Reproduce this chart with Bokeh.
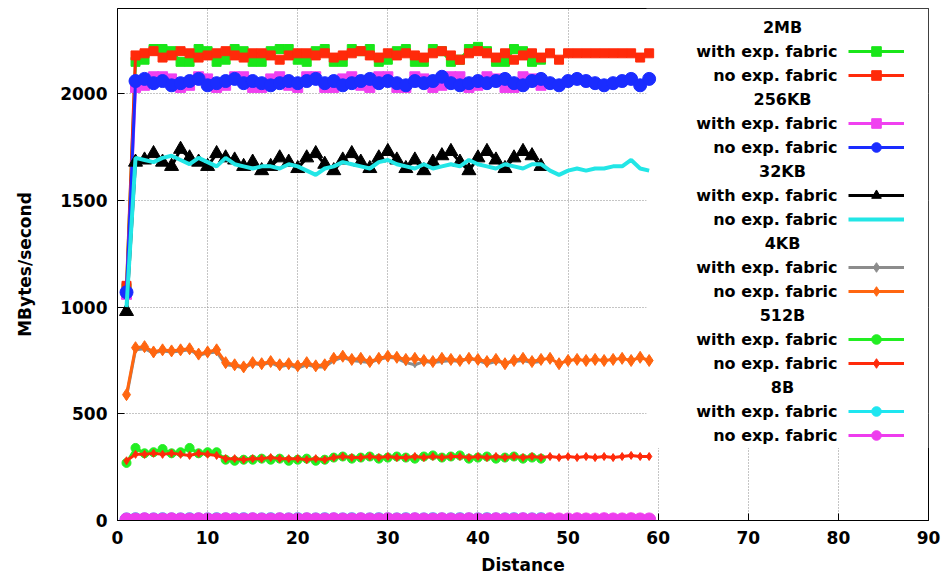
from bokeh.plotting import figure
from bokeh.models import (Range1d, FixedTicker, Legend, LegendItem, Label,
                          BoxAnnotation)
from bokeh.embed import file_html
from bokeh.resources import INLINE

# ---------------- data ----------------
dist_no = list(range(1, 60))      # "no exp. fabric" runs: distance 1..59
dist_with = list(range(1, 48))    # "with exp. fabric" runs: distance 1..47

mb2_with = [1090,
            2150, 2160, 2210, 2210, 2200, 2150, 2150, 2210, 2200, 2150,
            2160, 2210, 2200, 2150, 2150, 2200, 2210, 2210, 2160, 2150,
            2200, 2210, 2150, 2150, 2210, 2200, 2210, 2150, 2160, 2200,
            2210, 2150, 2150, 2210, 2200, 2150, 2160, 2210, 2220, 2200,
            2150, 2150, 2210, 2200, 2150, 2160]
mb2_no = [1100,
          2180, 2190, 2200, 2170, 2180, 2200, 2190, 2170, 2180, 2190,
          2200, 2180, 2170, 2190, 2190, 2180, 2160, 2180, 2190, 2190,
          2180, 2190, 2170, 2180, 2190, 2200, 2180, 2170, 2190, 2180,
          2190, 2180, 2170, 2190, 2200, 2180, 2160, 2190, 2200, 2190,
          2170, 2190, 2160, 2180, 2190, 2170, 2190, 2160, 2190, 2190,
          2190, 2190, 2190, 2190, 2190, 2190, 2170, 2190]
kb256_with = [1060,
              2030, 2040, 2080, 2080, 2070, 2030, 2040, 2080, 2070, 2030,
              2040, 2080, 2080, 2030, 2030, 2070, 2080, 2040, 2030, 2080,
              2080, 2030, 2030, 2070, 2080, 2040, 2030, 2080, 2080, 2030,
              2030, 2080, 2070, 2030, 2040, 2080, 2080, 2030, 2040, 2080,
              2070, 2030, 2030, 2080, 2070, 2040]
kb256_no = [1070,
            2060, 2070, 2050, 2060, 2040, 2050, 2060, 2070, 2040, 2050,
            2060, 2070, 2050, 2060, 2050, 2040, 2050, 2060, 2050, 2060,
            2070, 2050, 2060, 2040, 2050, 2060, 2070, 2050, 2060, 2050,
            2040, 2060, 2050, 2060, 2080, 2050, 2040, 2050, 2060, 2050,
            2060, 2070, 2050, 2040, 2060, 2070, 2050, 2040, 2060, 2070,
            2060, 2050, 2040, 2050, 2060, 2070, 2040, 2070]
kb32_with = [980,
             1680, 1690, 1720, 1680, 1660, 1740, 1700, 1680, 1660, 1720,
             1700, 1690, 1660, 1680, 1640, 1660, 1700, 1680, 1650, 1700,
             1720, 1670, 1640, 1690, 1720, 1680, 1650, 1700, 1730, 1690,
             1650, 1690, 1640, 1680, 1710, 1730, 1680, 1640, 1700, 1730,
             1690, 1650, 1700, 1730, 1710, 1660]
kb32_no = [1000,
           1700, 1690, 1680, 1700, 1710, 1690, 1670, 1700, 1680, 1660,
           1700, 1670, 1660, 1650, 1660, 1660, 1650, 1670, 1660, 1640,
           1620, 1650, 1660, 1680, 1670, 1660, 1650, 1680, 1690, 1670,
           1660, 1650, 1670, 1650, 1660, 1670, 1660, 1690, 1670, 1660,
           1650, 1670, 1660, 1650, 1670, 1670, 1640, 1620, 1640, 1650,
           1640, 1650, 1650, 1660, 1660, 1690, 1650, 1640]
kb4_with = [580,
            800, 805, 785, 795, 790, 795, 800, 775, 785, 790,
            730, 725, 715, 735, 730, 740, 720, 730, 715, 730,
            720, 720, 750, 765, 750, 745, 740, 755, 765, 760,
            740, 730, 745, 740, 745, 750, 745, 760, 750, 735,
            745, 740, 745, 750, 740, 745]
kb4_no = [590,
          810, 815, 790, 800, 795, 800, 805, 780, 790, 800,
          740, 730, 720, 740, 735, 745, 730, 735, 725, 740,
          725, 730, 760, 770, 755, 760, 745, 760, 770, 765,
          755, 760, 750, 745, 760, 755, 750, 760, 755, 745,
          755, 735, 750, 760, 745, 755, 760, 735, 750, 755,
          750, 755, 750, 755, 760, 750, 765, 750]
b512_with = [270,
             340, 315, 320, 335, 315, 320, 340, 315, 320, 320,
             285, 280, 285, 285, 290, 285, 290, 280, 285, 290,
             280, 285, 295, 300, 290, 295, 300, 290, 295, 300,
             295, 290, 300, 305, 295, 300, 305, 290, 295, 300,
             290, 295, 300, 290, 295, 290]
b512_no = [280,
           310, 310, 315, 310, 315, 310, 305, 315, 310, 305,
           290, 290, 285, 290, 290, 295, 290, 290, 290, 285,
           290, 285, 295, 300, 295, 295, 300, 295, 300, 295,
           295, 300, 295, 300, 295, 300, 300, 295, 300, 295,
           300, 295, 300, 295, 300, 295, 300, 295, 300, 295,
           300, 295, 300, 295, 300, 305, 300, 300]
b8_with = [5, 6, 5, 5, 6, 5, 5, 6, 5, 5, 6, 5, 5, 6, 5, 5,
           6, 5, 5, 6, 5, 5, 6, 5, 5, 6, 5, 5, 6, 5, 5, 6,
           5, 5, 6, 5, 5, 6, 5, 5, 6, 5, 5, 6, 5, 5, 6]
b8_no = [5, 5, 6, 5, 5, 6, 5, 5, 6, 5, 5, 6, 5, 5, 6, 5,
         5, 6, 5, 5, 6, 5, 5, 6, 5, 5, 6, 5, 5, 6, 5, 5,
         6, 5, 5, 6, 5, 5, 6, 5, 5, 6, 5, 5, 6, 5, 5, 6,
         5, 5, 6, 5, 5, 6, 5, 5, 6, 5, 5]

x_ticks = [0, 10, 20, 30, 40, 50, 60, 70, 80, 90]
y_ticks = [0, 500, 1000, 1500, 2000]

groups = ["2MB", "256KB", "32KB", "4KB", "512B", "8B"]
series_labels = ["with exp. fabric", "no exp. fabric"]

FONT = "DejaVu Sans"

# ---------------- figure ----------------
p = figure(width=943, height=580, output_backend="svg", toolbar_location=None,
           x_range=Range1d(0, 90), y_range=Range1d(0, 2400),
           min_border_left=117, min_border_right=15, min_border_top=8,
           min_border_bottom=60)
p.background_fill_color = "white"
p.border_fill_color = "white"
p.outline_line_color = "black"
p.outline_line_width = 1

for ax in (p.xaxis[0], p.yaxis[0]):
    ax.axis_line_color = "black"
    ax.major_tick_in = 7
    ax.major_tick_out = 0
    ax.minor_tick_line_color = None
    ax.major_tick_line_color = "black"
    ax.major_label_text_font = FONT
    ax.major_label_text_font_style = "bold"
    ax.major_label_text_font_size = "17px"
    ax.major_label_text_color = "black"
    ax.axis_label_text_font = FONT
    ax.axis_label_text_font_style = "bold"
    ax.axis_label_text_font_size = "17px"
    ax.axis_label_text_color = "black"
    ax.major_label_standoff = 10

p.xaxis[0].ticker = FixedTicker(ticks=x_ticks)
p.yaxis[0].ticker = FixedTicker(ticks=y_ticks)
p.xaxis[0].axis_label = "Distance"
p.yaxis[0].axis_label = "MBytes/second"
p.xaxis[0].axis_label_standoff = 8
p.yaxis[0].axis_label_standoff = 22

for g in (p.xgrid[0], p.ygrid[0]):
    g.grid_line_color = "#8a8a8a"
    g.grid_line_dash = "1 2"
    g.grid_line_width = 1
p.xgrid[0].ticker = FixedTicker(ticks=x_ticks)
p.ygrid[0].ticker = FixedTicker(ticks=y_ticks)

# opaque key area (covers grid, lies under the data)
p.add_layout(BoxAnnotation(left=58.7, right=90, bottom=340, top=2400,
                           fill_color="white", fill_alpha=1.0,
                           line_alpha=0, level="underlay"))

# ---------------- series ----------------
series = [
    # (x, y, color, marker, marker size, line width)
    (dist_with, mb2_with, "#19e619", "square", 9, 3),
    (dist_no, mb2_no, "#ff2a0a", "square", 9, 3),
    (dist_with, kb256_with, "#f040f0", "square", 10, 3),
    (dist_no, kb256_no, "#1a2cff", "circle", 13, 3),
    (dist_with, kb32_with, "#000000", "triangle", 14, 3),
    (dist_no, kb32_no, "#22e6e6", None, 0, 4),
    (dist_with, kb4_with, "#8c8c8c", "diamond", 6, 3),
    (dist_no, kb4_no, "#ff6610", "diamond", 12, 3),
    (dist_with, b512_with, "#22ee22", "circle", 9, 3),
    (dist_no, b512_no, "#ff2a0a", "diamond", 8, 3),
    (dist_with, b8_with, "#1ee6f0", "circle", 13, 3),
    (dist_no, b8_no, "#ee3cee", "circle", 13, 3),
]

series_renderers = []
for xs, ys, col, mk, ms, lw in series:
    rs = [p.line(xs, ys, line_color=col, line_width=lw)]
    if mk:
        rs.append(p.scatter(xs, ys, marker=mk, size=ms, fill_color=col,
                            line_color=col))
    series_renderers.append(rs)

# ---------------- key (gnuplot style: text on the left, sample on right) ----
items = []
row = 0
ROW_H = 24
TOP_ROW_Y = 493     # screen y (from frame bottom) of first row centre
for gi, gname in enumerate(groups):
    dummy = p.line([], [], line_alpha=0)
    items.append(LegendItem(label=" ", renderers=[dummy]))
    p.add_layout(Label(x=665, y=TOP_ROW_Y - ROW_H * row, x_units="screen",
                       y_units="screen", text=gname, text_align="center",
                       text_baseline="middle", text_font=FONT,
                       text_font_style="bold", text_font_size="16px",
                       text_color="black"))
    row += 1
    for si, slabel in enumerate(series_labels):
        items.append(LegendItem(label=" ",
                                renderers=series_renderers[gi * 2 + si]))
        p.add_layout(Label(x=720, y=TOP_ROW_Y - ROW_H * row, x_units="screen",
                           y_units="screen", text=slabel, text_align="right",
                           text_baseline="middle", text_font=FONT,
                           text_font_style="bold", text_font_size="16px",
                           text_color="black"))
        row += 1

legend = Legend(items=items, location=(731, 73), orientation="vertical",
                glyph_width=56, glyph_height=ROW_H, label_height=ROW_H,
                label_width=0, label_standoff=0, spacing=0, padding=0,
                margin=0, label_text_font_size="8px",
                background_fill_alpha=0, border_line_alpha=0)
p.add_layout(legend, "center")

open("out.html", "w").write(file_html(p, INLINE))
